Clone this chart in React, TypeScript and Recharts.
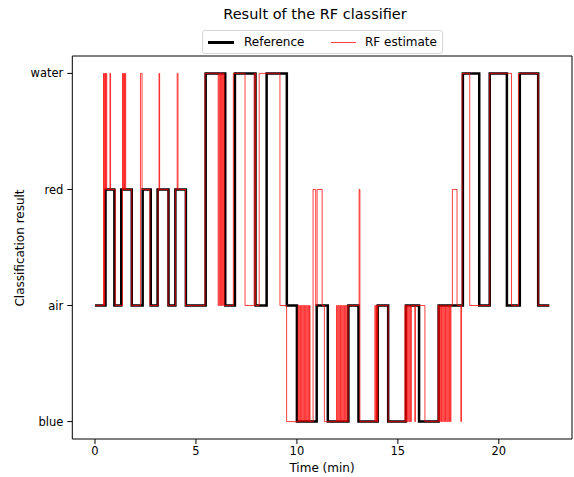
import React from "react";
import { LineChart, Line, XAxis, YAxis, ReferenceLine } from "recharts";

const classes = ["blue", "air", "red", "water"];
const xTicks = [0, 5, 10, 15, 20];

// reference labelling (time in minutes, class from that time on)
const refTime = [
    0, 0.52, 0.96, 1.3, 1.82, 2.36, 2.76, 3.1, 3.64, 3.98, 4.5, 5.48, 6.45, 6.93, 7.95, 8.5, 9.5,
    10.0, 10.98, 11.53, 12.55, 13.05, 14.0, 14.52, 15.4, 16.05, 17.02, 18.22, 19.03, 19.55, 20.4,
    21.04, 21.95, 22.5,
];
const refClass = [
    "air", "red", "air", "red", "air", "red", "air", "red", "air", "red", "air", "water", "air", "water", "air", "water", "air",
    "blue", "air", "blue", "air", "blue", "air", "blue", "air", "blue", "air", "water", "air", "water", "air",
    "water", "air", "air",
];

// RF classifier output
const rfTime = [
    0, 0.42, 0.45, 0.48, 0.52, 0.55, 0.58, 0.74, 0.77, 1.0,
    1.36, 1.39, 1.42, 1.46, 1.49, 1.52, 1.82, 2.25, 2.33, 2.72,
    3.12, 3.17, 3.2, 3.62, 3.98, 4.07, 4.11, 4.48, 5.45,
    6.1, 6.14, 6.18, 6.21, 6.25, 6.28, 6.32, 6.36, 6.4,
    6.85, 7.43, 7.88, 7.95, 8.13, 9.16, 9.49,
    10.06, 10.1, 10.14, 10.18, 10.22, 10.26, 10.3, 10.34, 10.38, 10.42, 10.46, 10.5, 10.54, 10.58, 10.62, 10.65,
    10.8, 10.93, 11.0, 11.25, 11.36,
    11.96, 12.0, 12.04, 12.08, 12.12, 12.16, 12.2, 12.24, 12.28, 12.32, 12.36, 12.4, 12.44, 12.48, 12.54,
    13.08, 13.12, 13.86, 13.9, 13.94, 13.97, 14.0, 14.52,
    15.35, 15.39, 15.43, 15.47, 15.51, 15.55, 15.59, 15.63, 15.67, 15.84, 15.87, 16.34,
    17.0, 17.04, 17.08, 17.12, 17.16, 17.2, 17.24, 17.28, 17.32, 17.36, 17.4, 17.44, 17.48, 17.52, 17.56, 17.6, 17.63,
    17.7, 17.93, 18.12, 18.15, 18.18, 18.56, 19.55, 20.63, 20.97, 21.95, 22.5,
];
const rfClass = [
    "air", "water", "air", "water", "red", "water", "red", "water", "red", "air",
    "water", "red", "water", "red", "water", "red", "air", "water", "red", "air",
    "red", "water", "red", "air", "red", "water", "red", "air", "water",
    "air", "water", "air", "water", "air", "water", "air", "water", "air",
    "water", "air", "water", "air", "water", "air", "blue",
    "air", "blue", "air", "blue", "air", "blue", "air", "blue", "air", "blue", "air", "blue", "air", "blue", "air", "blue",
    "red", "air", "red", "air", "blue",
    "air", "blue", "air", "blue", "air", "blue", "air", "blue", "air", "blue", "air", "blue", "air", "blue", "air",
    "red", "blue", "air", "blue", "air", "blue", "air", "blue",
    "air", "blue", "air", "blue", "air", "blue", "air", "blue", "air", "blue", "air", "blue",
    "air", "blue", "air", "blue", "air", "blue", "air", "blue", "air", "blue", "air", "blue", "air", "blue", "air", "blue", "air",
    "red", "air", "blue", "air", "water", "air", "water", "air", "water", "air", "air",
];

const toRows = (times: number[], labels: string[]) =>
    times.map((t, i) => ({ t, v: classes.indexOf(labels[i]) }));

const refData = toRows(refTime, refClass);
const rfData = toRows(rfTime, rfClass);

const font = "'DejaVu Sans', sans-serif";
const tickStyle = { fontSize: 11.5, fill: "#000", fontFamily: font };

const App: React.FC = () => {
    return (
        <div style={{ position: "absolute", left: 0, top: 0, width: 574, height: 477, fontFamily: font, background: "#fff" }}>
            <LineChart width={574} height={477} margin={{ top: 56, right: 2, bottom: 0, left: 0 }}>
                <XAxis
                    dataKey="t"
                    type="number"
                    domain={[-1.125, 23.625]}
                    ticks={xTicks}
                    allowDataOverflow
                    height={38}
                    tickSize={5}
                    tickMargin={3}
                    stroke="#000"
                    tick={tickStyle}
                />
                <YAxis
                    type="number"
                    domain={[-0.15, 3.15]}
                    ticks={[0, 1, 2, 3]}
                    tickFormatter={(v: number) => classes[v]}
                    allowDataOverflow
                    width={72.3}
                    tickSize={5}
                    tickMargin={4}
                    stroke="#000"
                    tick={tickStyle}
                />
                <ReferenceLine y={3.15} stroke="#000" strokeWidth={1} />
                <ReferenceLine x={23.625} stroke="#000" strokeWidth={1} />
                <Line
                    data={refData}
                    dataKey="v"
                    type="stepAfter"
                    stroke="#000"
                    strokeWidth={2.5}
                    dot={false}
                    isAnimationActive={false}
                />
                <Line
                    data={rfData}
                    dataKey="v"
                    type="stepAfter"
                    stroke="#ff0000"
                    strokeOpacity={0.75}
                    strokeWidth={1}
                    dot={false}
                    isAnimationActive={false}
                />
            </LineChart>

            <div style={{ position: "absolute", left: 315, top: 6, transform: "translateX(-50%)", fontSize: 14.5, lineHeight: "16px", whiteSpace: "nowrap" }}>
                Result of the RF classifier
            </div>

            <div
                style={{
                    position: "absolute",
                    left: 202,
                    top: 30,
                    width: 241,
                    height: 24,
                    boxSizing: "border-box",
                    border: "1px solid #d6d6d6",
                    borderRadius: 3,
                    background: "rgba(255,255,255,0.8)",
                    fontSize: 12,
                }}
            >
                <div style={{ position: "absolute", left: 5, top: 10, width: 26, height: 2.5, background: "#000" }} />
                <div style={{ position: "absolute", left: 41, top: 4, lineHeight: "14px" }}>Reference</div>
                <div style={{ position: "absolute", left: 128, top: 11, width: 25, height: 1, background: "rgba(255,0,0,0.75)" }} />
                <div style={{ position: "absolute", left: 162, top: 4, lineHeight: "14px" }}>RF estimate</div>
            </div>

            <div style={{ position: "absolute", left: 322, top: 468, transform: "translate(-50%, -50%)", fontSize: 12, whiteSpace: "nowrap" }}>
                Time (min)
            </div>
            <div style={{ position: "absolute", left: 20, top: 248, transform: "translate(-50%, -50%) rotate(-90deg)", fontSize: 12, whiteSpace: "nowrap" }}>
                Classification result
            </div>
        </div>
    );
};

export default App;
